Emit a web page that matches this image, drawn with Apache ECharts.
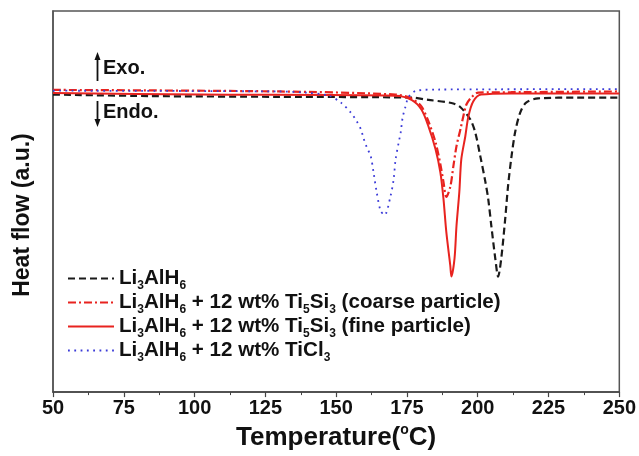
<!DOCTYPE html>
<html><head><meta charset="utf-8">
<script src="https://cdn.jsdelivr.net/npm/echarts@6/dist/echarts.min.js"></script>
<style>html,body{margin:0;padding:0;background:#fff}#c{width:639px;height:456px}</style>
</head><body><div id="c"></div>
<script>
// Temperatures (°C) and heat flow (a.u.)
const tempPure = [50,84.1,129.8,176.6,182.6,190.7,193.9,197.4,199.1,200.9,202.7,203.7,204.8,206.2,207.2,208.3,209.7,210.7,211.8,213.2,215.0,217.1,221.3,235.4,250];
const flowPure = [78.3,77.9,77.7,77.5,76.9,76.1,75.0,71.8,68.5,62.3,55.6,51.2,44.2,35.7,31.0,35.7,46.0,54.5,61.5,68.5,73.6,76.2,77.3,77.5,77.5];

const tempCoarse = [50,129.8,171.0,176.6,180.1,182.6,185.1,186.8,187.9,188.9,190.3,191.4,192.5,193.9,194.9,196.0,197.7,200.2,211.8,250];
const flowCoarse = [79.5,79.1,78.3,77.3,75.2,71.3,65.9,60.2,55.6,51.7,54.3,59.7,64.9,69.3,72.6,75.7,77.5,78.8,78.9,79.1];

const tempFine = [50,101.7,171.0,176.6,180.1,182.6,185.1,186.8,187.9,188.9,190.3,190.7,191.8,192.5,193.5,194.2,195.6,196.7,198.4,201.2,211.8,250];
const flowFine = [78.7,78.3,78.0,76.9,74.4,70.0,64.1,58.1,51.2,42.6,33.9,31.0,35.7,44.2,53.0,61.5,67.4,72.6,76.5,78.3,78.6,78.6];

const tempTiCl3 = [50,129.8,139.3,147.4,151.7,155.2,157.3,158.7,159.7,160.8,162.2,163.3,164.3,165.7,167.1,169.2,170.3,171.0,172.1,172.8,173.5,174.5,175.6,178.4,186.1,250];
const flowTiCl3 = [79.3,79.1,78.8,78.0,76.2,73.6,71.3,69.3,66.9,64.6,62.3,57.6,53.0,48.1,47.0,51.9,56.3,61.5,65.9,68.5,72.4,75.2,77.7,79.3,79.6,79.7];

const xTicks = [50,75,100,125,150,175,200,225,250];
const seriesNames = ['Li3AlH6','Li3AlH6 + 12 wt% Ti5Si3 (coarse particle)','Li3AlH6 + 12 wt% Ti5Si3 (fine particle)','Li3AlH6 + 12 wt% TiCl3'];
const legendRich = {
  'Li3AlH6':'{m|Li}{s|3}{m|AlH}{s|6}',
  'Li3AlH6 + 12 wt% Ti5Si3 (coarse particle)':'{m|Li}{s|3}{m|AlH}{s|6}{m| + 12 wt% Ti}{s|5}{m|Si}{s|3}{m| (coarse particle)}',
  'Li3AlH6 + 12 wt% Ti5Si3 (fine particle)':'{m|Li}{s|3}{m|AlH}{s|6}{m| + 12 wt% Ti}{s|5}{m|Si}{s|3}{m| (fine particle)}',
  'Li3AlH6 + 12 wt% TiCl3':'{m|Li}{s|3}{m|AlH}{s|6}{m| + 12 wt% TiCl}{s|3}'
};

const zip = (a,b) => a.map((v,i)=>[v,b[i]]);
const FONT = 'Liberation Sans, Arial, sans-serif';

const chart = echarts.init(document.getElementById('c'));
chart.setOption({
  animation:false,
  backgroundColor:'#fff',
  grid:{left:53,right:17,top:11,bottom:48,show:true,borderColor:'#555',borderWidth:1.5,containLabel:false},
  xAxis:{type:'value',min:50,max:250,interval:25,
    name:'{t|Temperature(}{p|o}{t|C)}',nameLocation:'middle',nameGap:29,
    nameTextStyle:{rich:{t:{fontFamily:FONT,fontWeight:'bold',fontSize:26,color:'#111',lineHeight:28,verticalAlign:'bottom'},
                          p:{fontFamily:FONT,fontWeight:'bold',fontSize:14,color:'#111',lineHeight:28,verticalAlign:'top'}}},
    axisLine:{show:true,lineStyle:{color:'#444',width:1.5}},
    axisTick:{show:true,inside:false,length:5,lineStyle:{color:'#444',width:1.2}},
    minorTick:{show:true,splitNumber:2,length:3,lineStyle:{color:'#444',width:1}},
    splitLine:{show:false},
    axisLabel:{fontFamily:FONT,fontWeight:'bold',fontSize:20,color:'#111',margin:6,
      formatter:v=> xTicks.includes(v)? String(v):''}
  },
  yAxis:{type:'value',min:1,max:100,
    axisLine:{show:true,lineStyle:{color:'#555',width:1.5}},
    axisTick:{show:false},axisLabel:{show:false},splitLine:{show:false}
  },
  legend:{orient:'vertical',left:62,top:263,itemWidth:46,itemHeight:14,itemGap:0.5,
    itemStyle:{color:'rgba(0,0,0,0)',borderColor:'rgba(0,0,0,0)',borderWidth:0},
    formatter:n=>legendRich[n],
    textStyle:{rich:{m:{fontFamily:FONT,fontWeight:'bold',fontSize:20.6,color:'#111',lineHeight:26,verticalAlign:'middle'},
                     s:{fontFamily:FONT,fontWeight:'bold',fontSize:12,color:'#111',lineHeight:1,verticalAlign:'bottom'}}},
    data:seriesNames
  },
  series:[
    {name:seriesNames[0],type:'line',data:zip(tempPure,flowPure),showSymbol:false,symbol:'none',smooth:0.3,
      lineStyle:{color:'#1a1a1a',width:2.2,type:[7,4]},itemStyle:{color:'#1a1a1a'}},
    {name:seriesNames[1],type:'line',data:zip(tempCoarse,flowCoarse),showSymbol:false,symbol:'none',smooth:0.3,
      lineStyle:{color:'#e8231f',width:2.2,type:[8,3,2,3]},itemStyle:{color:'#e8231f'}},
    {name:seriesNames[2],type:'line',data:zip(tempFine,flowFine),showSymbol:false,symbol:'none',smooth:0.3,
      lineStyle:{color:'#e8231f',width:2},itemStyle:{color:'#e8231f'}},
    {name:seriesNames[3],type:'line',data:zip(tempTiCl3,flowTiCl3),showSymbol:false,symbol:'none',smooth:0.3,
      lineStyle:{color:'#3b3bd8',width:1.8,type:[1.8,4.5]},itemStyle:{color:'#3b3bd8'}}
  ],
  graphic:[
    {type:'text',x:23,y:215,rotation:Math.PI/2,style:{text:'Heat flow (a.u.)',font:'bold 23px '+FONT,fill:'#111',align:'center',verticalAlign:'middle'}},
    {type:'line',shape:{x1:97.5,y1:81,x2:97.5,y2:58},style:{stroke:'#111',lineWidth:1.8}},
    {type:'polygon',shape:{points:[[94.5,60],[100.5,60],[97.5,52]]},style:{fill:'#111'}},
    {type:'text',x:103,y:68,style:{text:'Exo.',font:'bold 20px '+FONT,fill:'#111',verticalAlign:'middle'}},
    {type:'line',shape:{x1:97.5,y1:101,x2:97.5,y2:121},style:{stroke:'#111',lineWidth:1.8}},
    {type:'polygon',shape:{points:[[94.5,119],[100.5,119],[97.5,127]]},style:{fill:'#111'}},
    {type:'text',x:103,y:112,style:{text:'Endo.',font:'bold 20px '+FONT,fill:'#111',verticalAlign:'middle'}}
  ]
});
</script></body></html>
